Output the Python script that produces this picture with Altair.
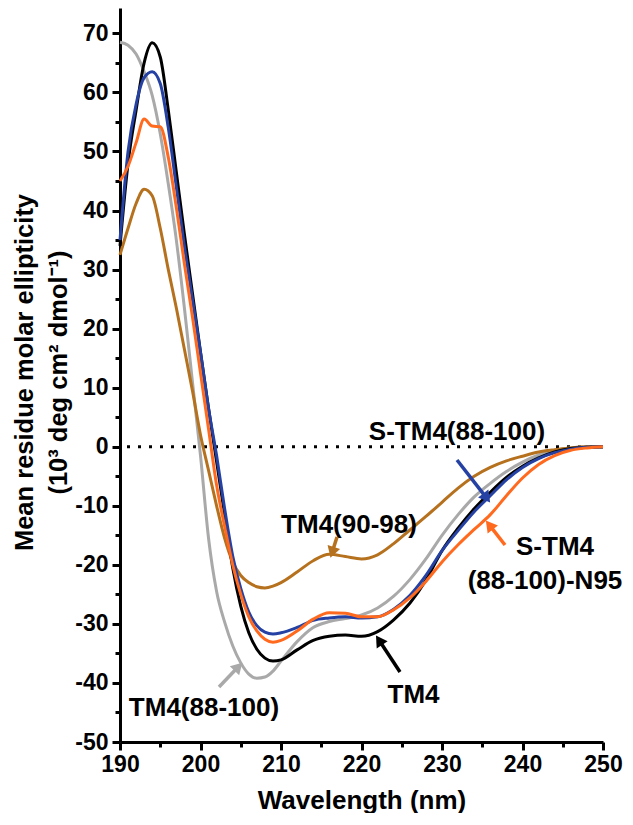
import math
import altair as alt
import pandas as pd

# ---------------- data ----------------
wavelength = [190, 191, 192, 193, 194, 195, 196, 197, 198, 199, 200, 201, 202, 203, 204, 205, 206, 207, 208, 209, 210,
              212, 214, 216, 218, 220, 222, 224, 226, 228, 230, 232, 234, 236, 238, 240, 242, 244, 246, 248, 250]

tm4 = [34, 48, 57, 65, 68.4, 66, 57, 46.5, 36, 26, 16, 6.5, -2.5, -11.5, -20.5, -27, -31.5, -34.3, -35.8, -36.3, -36.1,
       -34.4, -32.8, -32.1, -31.9, -32.1, -31.3, -29.3, -26.5, -22.6, -17.6, -13.8, -10.5, -7.7, -5.2, -3.3, -1.9, -0.9, -0.3, -0.1, 0]

tm4_88_100 = [68.5, 68, 66.5, 63.5, 59.5, 53, 44.5, 35, 23.5, 11, -1.5, -15.5, -24.5, -29.7, -33.7, -36.6, -38.5, -39.2, -39, -38, -36.3,
              -33, -30.6, -29.6, -29.1, -28.5, -27.3, -25.3, -22.5, -19, -15, -11.5, -8.5, -6.2, -4.2, -2.6, -1.4, -0.6, -0.2, 0, 0]

s_tm4_88_100 = [35, 50, 58, 62.5, 63.5, 61.5, 54, 44, 34, 25, 16, 6.5, -1.5, -10.5, -18.5, -24, -28, -30.3, -31.4, -31.7, -31.5,
                -30.6, -29.4, -29, -28.8, -29, -28.8, -27.5, -25.2, -21.8, -17.6, -14.2, -11, -8.3, -5.6, -3.5, -2, -1, -0.4, -0.1, 0]

s_tm4_88_100_n95 = [45, 47.5, 51.5, 55.5, 54.3, 54.2, 49, 40.5, 31, 22, 12.5, 3, -6.5, -13.5, -20, -25, -28.8, -31.2, -32.6, -33.1, -32.8,
                    -31.2, -29.2, -28.1, -28.2, -28.8, -28.8, -27.6, -25.6, -22.8, -19.5, -16.6, -14, -11.5, -8.3, -5.3, -3, -1.5, -0.6, -0.2, 0]

tm4_90_98 = [32.5, 37, 41.2, 43.6, 42.5, 37, 30, 23.5, 16.5, 9.5, 2, -4, -10, -15.5, -19.5, -21.8, -23, -23.7, -23.9, -23.6, -23,
             -21.2, -19.3, -18.2, -18.6, -19, -18.3, -16.4, -14.1, -11.8, -9.4, -7, -5, -3.5, -2.4, -1.6, -0.9, -0.5, -0.2, 0, 0]

series_names = ["TM4(88-100)", "TM4(90-98)", "TM4", "S-TM4(88-100)", "S-TM4(88-100)-N95"]
series_values = [tm4_88_100, tm4_90_98, tm4, s_tm4_88_100, s_tm4_88_100_n95]

x_ticks = list(range(190, 251, 5))
y_ticks = list(range(-50, 75, 5))

# ---------------- style / layout ----------------
FONT = "Liberation Sans"
GRAY = "#a9a9a9"
BROWN = "#b5711e"
BLACK = "#000000"
BLUE = "#2441a3"
ORANGE = "#ff6a1f"
series_colors = [GRAY, BROWN, BLACK, BLUE, ORANGE]

W, H = 483, 734

x_axis = alt.Axis(
    values=x_ticks,
    labelExpr="datum.value % 10 === 0 ? toString(datum.value) : ''",
    tickSize={"condition": {"test": "datum.value % 10 !== 0", "value": 5}, "value": 8},
    tickWidth=3, tickColor=BLACK, domainWidth=3, domainColor=BLACK,
    labelFont=FONT, labelFontSize=23, labelFontWeight="bold", labelColor=BLACK,
    labelPadding=3, labelFlush=False, labelOverlap=False, grid=False,
    title="Wavelength (nm)", titleFont=FONT, titleFontSize=26, titleFontWeight="bold",
    titleColor=BLACK, titleY=66, titleBaseline="alphabetic",
)
y_axis = alt.Axis(
    values=y_ticks,
    labelExpr="datum.value % 10 === 0 ? toString(datum.value) : ''",
    tickSize={"condition": {"test": "datum.value % 10 !== 0", "value": 5}, "value": 8},
    tickWidth=3, tickColor=BLACK, domainWidth=3, domainColor=BLACK,
    labelFont=FONT, labelFontSize=23, labelFontWeight="bold", labelColor=BLACK,
    labelPadding=4, labelFlush=False, labelOverlap=False, grid=False,
    title=["Mean residue molar ellipticity", "(10³ deg cm² dmol⁻¹)"],
    titleFont=FONT, titleFontSize=25.5, titleFontWeight="bold", titleColor=BLACK,
    titleAngle=270, titleX=-88, titleY=364, titleAlign="center", titleBaseline="alphabetic",
    titleLineHeight=34,
)

x_scale = alt.Scale(domain=[190, 250], nice=False, zero=False)
y_scale = alt.Scale(domain=[-50, 74.3], nice=False, zero=False)

layers = []

# dotted zero line
zero_df = pd.DataFrame({"y": [0]})
layers.append(
    alt.Chart(zero_df).mark_rule(color=BLACK, strokeWidth=3, strokeDash=[3, 8]).encode(
        y=alt.Y("y:Q", scale=y_scale, axis=y_axis)
    )
)

for name, vals, col in zip(series_names, series_values, series_colors):
    df = pd.DataFrame({"wavelength": wavelength, "value": vals, "series": name})
    layers.append(
        alt.Chart(df).mark_line(color=col, strokeWidth=3, interpolate="monotone").encode(
            x=alt.X("wavelength:Q", scale=x_scale, axis=x_axis),
            y=alt.Y("value:Q", scale=y_scale, axis=y_axis),
        )
    )

# ---------------- annotations (pixel positions in plot coordinates) ----------------
ann_text = ["S-TM4(88-100)", "TM4(90-98)", "S-TM4", "(88-100)-N95", "TM4", "TM4(88-100)"]
ann_px = [337, 229, 435, 425, 293.5, 84]
ann_py = [432, 525, 547, 581, 695, 708]
ann_df = pd.DataFrame({"t": ann_text, "px": ann_px, "py": ann_py})
layers.append(
    alt.Chart(ann_df).mark_text(font=FONT, fontSize=26, fontWeight="bold", color=BLACK,
                                align="center", baseline="alphabetic").encode(
        x=alt.X("px:Q", scale=None), y=alt.Y("py:Q", scale=None), text="t:N"
    )
)

# arrows: tail -> tip (plot pixel coords)
arrow_tail = [(337, 452), (385, 537), (217, 529), (280, 664), (99, 679)]
arrow_tip = [(369, 493), (367, 514), (211, 548), (257, 629), (121, 656)]
arrow_col = [BLUE, ORANGE, BROWN, BLACK, GRAY]
HEAD = 170
r = math.sqrt(HEAD) / 2
h = math.sqrt(3) / 2 * r
rows = []
for (tx, ty), (px, py), c in zip(arrow_tail, arrow_tip, arrow_col):
    dx, dy = px - tx, py - ty
    L = math.hypot(dx, dy)
    ux, uy = dx / L, dy / L
    cx, cy = px - ux * h, py - uy * h
    ang = math.degrees(math.atan2(dx, -dy)) % 360
    rows.append({"x1": tx, "y1": ty, "x2": cx, "y2": cy, "hx": cx, "hy": cy, "ang": ang, "c": c})
arr_df = pd.DataFrame(rows)
layers.append(
    alt.Chart(arr_df).mark_rule(strokeWidth=3.5).encode(
        x=alt.X("x1:Q", scale=None), y=alt.Y("y1:Q", scale=None),
        x2="x2:Q", y2="y2:Q", color=alt.Color("c:N", scale=None)
    )
)
layers.append(
    alt.Chart(arr_df).mark_point(shape="triangle", filled=True, size=HEAD, opacity=1).encode(
        x=alt.X("hx:Q", scale=None), y=alt.Y("hy:Q", scale=None),
        angle=alt.Angle("ang:Q", scale=None), color=alt.Color("c:N", scale=None)
    )
)

chart = alt.layer(*layers).properties(
    width=W, height=H,
    autosize=alt.AutoSizeParams(type="none"),
    padding={"left": 112, "top": 0, "right": 22, "bottom": 71},
    background="white",
).configure_view(strokeWidth=0)

chart.save("out.html", embed_options={"renderer": "svg", "actions": False})
